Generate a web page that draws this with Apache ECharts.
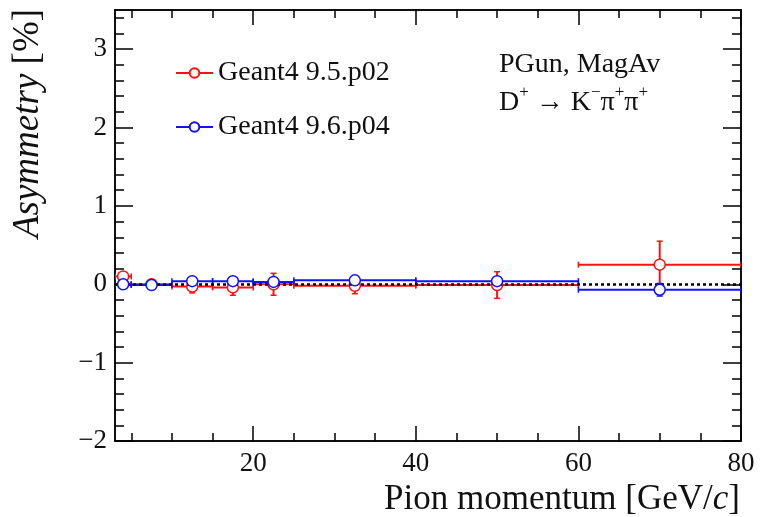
<!DOCTYPE html>
<html><head><meta charset="utf-8">
<script src="https://cdn.jsdelivr.net/npm/echarts@6/dist/echarts.min.js"></script>
<style>html,body{margin:0;padding:0;background:#fff}#c{width:762px;height:517px}</style>
</head><body><div id="c"></div>
<script>
// ---- data ----
const binLow    = [3, 5, 10, 15, 20, 25, 40, 60];
const binHigh   = [5, 10, 15, 20, 25, 40, 60, 80];
const binCenter = [4, 7.5, 12.5, 17.5, 22.5, 32.5, 50, 70];
const g495      = [0.10, 0.00, -0.03, -0.04, 0.00, -0.02, -0.01, 0.25];
const g495Err   = [0.05, 0.02, 0.08, 0.10, 0.14, 0.10, 0.17, 0.30];
const g496      = [0.00, -0.01, 0.04, 0.04, 0.03, 0.05, 0.04, -0.07];
const g496Err   = [0.03, 0.02, 0.03, 0.03, 0.04, 0.03, 0.04, 0.08];
const seriesNames = ['Geant4 9.5.p02', 'Geant4 9.6.p04'];
const xMajorTicks = [20, 40, 60, 80];
const xMinorTicks = [5, 10, 15, 25, 30, 35, 45, 50, 55, 65, 70, 75];
const yMajorTicks = [-2, -1, 0, 1, 2, 3];
const yMinorTicks = [-1.8,-1.6,-1.4,-1.2,-0.8,-0.6,-0.4,-0.2,0.2,0.4,0.6,0.8,1.2,1.4,1.6,1.8,2.2,2.4,2.6,2.8,3.2,3.4];

const RED = '#ff1010', BLUE = '#1010ff';
const FONT = 'Liberation Serif';
const TXT = '#111';

function errData(vals, errs) {
  return vals.map((v, i) => [binLow[i], binHigh[i], binCenter[i], v, errs[i]]);
}
function ptData(vals) { return vals.map((v, i) => [binCenter[i], v]); }

function errRender(color) {
  return function (params, api) {
    const lo = api.value(0), hi = api.value(1), x = api.value(2), y = api.value(3), e = api.value(4);
    const pL = api.coord([lo, y]), pR = api.coord([hi, y]);
    const pT = api.coord([x, y + e]), pB = api.coord([x, y - e]);
    const c = 3;
    const st = { stroke: color, lineWidth: 2, fill: null };
    const sc = { stroke: color, lineWidth: 1.5, fill: null };
    return { type: 'group', children: [
      { type: 'line', shape: { x1: pL[0], y1: pL[1], x2: pR[0], y2: pR[1] }, style: st },
      { type: 'line', shape: { x1: pT[0], y1: pT[1], x2: pB[0], y2: pB[1] }, style: st },
      { type: 'line', shape: { x1: pL[0], y1: pL[1] - c, x2: pL[0], y2: pL[1] + c }, style: sc },
      { type: 'line', shape: { x1: pR[0], y1: pR[1] - c, x2: pR[0], y2: pR[1] + c }, style: sc },
      { type: 'line', shape: { x1: pT[0] - c, y1: pT[1], x2: pT[0] + c, y2: pT[1] }, style: sc },
      { type: 'line', shape: { x1: pB[0] - c, y1: pB[1], x2: pB[0] + c, y2: pB[1] }, style: sc }
    ]};
  };
}

function xAx(pos, ticks, len, labels, extra) {
  return Object.assign({
    type: 'value', position: pos, min: 3, max: 80,
    axisLine: { show: true, onZero: false, lineStyle: { color: '#000', width: 1.5 } },
    axisTick: { show: true, inside: true, length: len, customValues: ticks, lineStyle: { color: '#000', width: 1.5 } },
    axisLabel: labels ? { show: true, customValues: ticks, fontFamily: FONT, fontSize: 27, color: TXT, margin: 9 } : { show: false },
    splitLine: { show: false }
  }, extra || {});
}
function yAx(pos, ticks, len, labels, extra) {
  return Object.assign({
    type: 'value', position: pos, min: -2, max: 3.5,
    axisLine: { show: true, onZero: false, lineStyle: { color: '#000', width: 1.5 } },
    axisTick: { show: true, inside: true, length: len, customValues: ticks, lineStyle: { color: '#000', width: 1.5 } },
    axisLabel: labels ? { show: true, customValues: ticks, fontFamily: FONT, fontSize: 27, color: TXT, margin: 8,
      formatter: v => String(v).replace('-', '\u2212') } : { show: false },
    splitLine: { show: false }
  }, extra || {});
}

const chart = echarts.init(document.getElementById('c'), null, { renderer: 'canvas' });
chart.setOption({
  animation: false,
  backgroundColor: '#fff',
  grid: { left: 115, right: 21, top: 10, bottom: 76, containLabel: false, outerBoundsMode: 'none' },
  xAxis: [
    xAx('bottom', xMajorTicks, 15, true, {
      name: 'Pion momentum [GeV/{i|c}]', nameLocation: 'middle', nameGap: 35,
      nameTextStyle: { fontFamily: FONT, fontSize: 35, color: TXT, verticalAlign: 'top', padding: [0, 0, 0, 268],
        rich: { i: { fontFamily: FONT, fontSize: 35, fontStyle: 'italic', color: TXT } } }
    }),
    xAx('bottom', xMinorTicks, 8, false),
    xAx('top', xMajorTicks, 15, false),
    xAx('top', xMinorTicks, 8, false)
  ],
  yAxis: [
    yAx('left', yMajorTicks, 18, true, {
      name: '{i|Asymmetry} [%]', nameLocation: 'middle', nameGap: 68, nameRotate: 90,
      nameTextStyle: { fontFamily: FONT, fontSize: 37, color: TXT, padding: [0, 0, 0, 204],
        rich: { i: { fontFamily: FONT, fontSize: 37, fontStyle: 'italic', color: TXT } } }
    }),
    yAx('left', yMinorTicks, 9, false),
    yAx('right', yMajorTicks, 18, false),
    yAx('right', yMinorTicks, 9, false)
  ],
  legend: {
    orient: 'vertical', left: 170, top: 54, itemGap: 26,
    itemWidth: 37, itemHeight: 12,
    textStyle: { fontFamily: FONT, fontSize: 28, color: TXT },
    data: [
      { name: seriesNames[0], lineStyle: { width: 2, color: RED, opacity: 1 } },
      { name: seriesNames[1], lineStyle: { width: 2, color: BLUE, opacity: 1 } }
    ]
  },
  title: {
    left: 494, top: 41,
    text: 'PGun, MagAv\nD{sup|+} \u2192 K{sup|\u2212}\u03c0{sup|+}\u03c0{sup|+}',
    textStyle: { fontFamily: FONT, fontSize: 28, fontWeight: 'normal', color: TXT, lineHeight: 38,
      rich: { sup: { fontFamily: FONT, fontSize: 17, color: TXT, verticalAlign: 'top', lineHeight: 30 } } }
  },
  series: [
    { type: 'line', data: [], silent: true, z: 1,
      markLine: { silent: true, symbol: 'none', label: { show: false },
        lineStyle: { color: '#000', width: 2.5, type: [3, 3] },
        data: [{ yAxis: 0 }] } },
    { type: 'custom', name: 'err495', clip: true, z: 2, renderItem: errRender(RED), data: errData(g495, g495Err) },
    { type: 'custom', name: 'err496', clip: true, z: 3, renderItem: errRender(BLUE), data: errData(g496, g496Err) },
    { type: 'line', name: seriesNames[0], z: 4, data: ptData(g495), symbol: 'circle', symbolSize: 11, showSymbol: true,
      lineStyle: { width: 2, opacity: 0 }, itemStyle: { color: '#fff', borderColor: RED, borderWidth: 1.5 } },
    { type: 'line', name: seriesNames[1], z: 5, data: ptData(g496), symbol: 'circle', symbolSize: 11, showSymbol: true,
      lineStyle: { width: 2, opacity: 0 }, itemStyle: { color: '#fff', borderColor: BLUE, borderWidth: 1.5 } }
  ]
});
</script></body></html>
